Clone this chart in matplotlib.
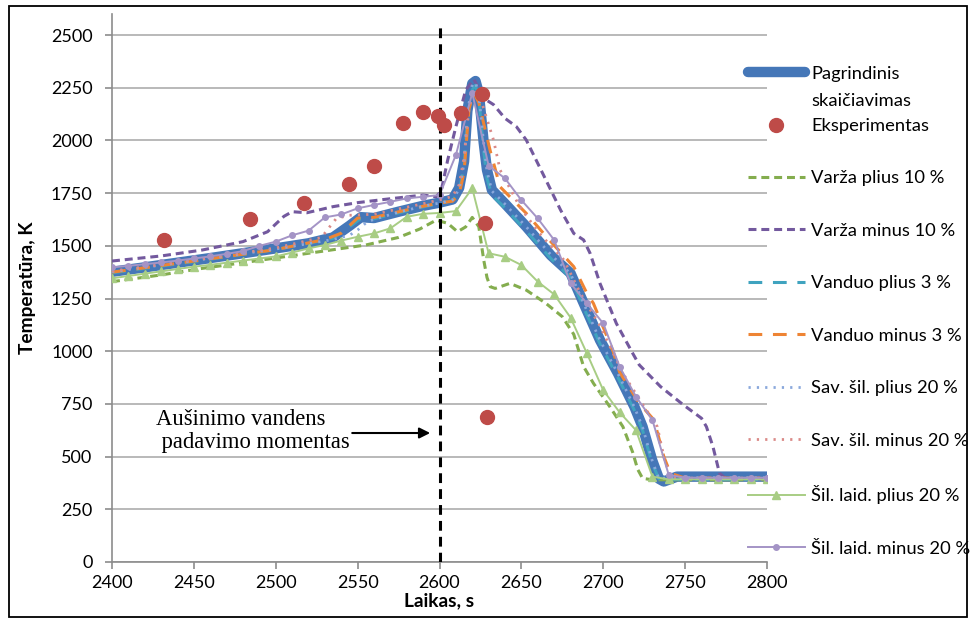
import matplotlib
matplotlib.use('Agg')
import matplotlib.pyplot as plt
from matplotlib.patches import Rectangle

plt.rcParams['font.family'] = ['Lato', 'DejaVu Sans']

# --- data ---
t_base = [2400, 2420, 2440, 2460, 2480, 2500, 2520, 2535, 2545, 2552, 2560, 2575, 2590, 2600,
          2608, 2612, 2615, 2617, 2620, 2622, 2624, 2627, 2629, 2632, 2640, 2653, 2668, 2680,
          2689, 2698, 2709, 2719, 2724, 2730, 2734, 2737, 2745, 2800]
T_base = [1377, 1398, 1420, 1442, 1465, 1488, 1512, 1540, 1595, 1636, 1632, 1662, 1690, 1705,
          1720, 1775, 1900, 2140, 2270, 2282, 2225, 1990, 1860, 1765, 1700, 1591, 1455, 1370,
          1211, 1053, 895, 737, 642, 480, 395, 382, 405, 405]

t_exp = [2432, 2484, 2517, 2545, 2560, 2578, 2590, 2599, 2603, 2613, 2626, 2628, 2629]
T_exp = [1527, 1627, 1705, 1793, 1880, 2084, 2137, 2116, 2073, 2128, 2220, 1610, 689]

t_vp10 = [2400, 2430, 2455, 2480, 2505, 2530, 2555, 2575, 2588, 2598, 2605, 2611, 2616, 2620,
          2624, 2627, 2629, 2631, 2634, 2643, 2653, 2665, 2675, 2682, 2688, 2694, 2704, 2712,
          2718, 2721, 2724, 2730, 2800]
T_vp10 = [1330, 1362, 1393, 1420, 1448, 1476, 1504, 1540, 1580, 1622, 1607, 1567, 1590, 1635,
          1591, 1433, 1350, 1306, 1298, 1322, 1290, 1227, 1164, 1080, 927, 848, 737, 642,
          520, 440, 397, 390, 390]

t_vm10 = [2400, 2430, 2455, 2480, 2495, 2505, 2510, 2519, 2535, 2550, 2566, 2590, 2598, 2601,
          2605, 2610, 2616, 2621, 2627, 2633, 2640, 2647, 2653, 2663, 2674, 2682, 2688, 2692,
          2698, 2708, 2718, 2722, 2735, 2749, 2760, 2763, 2767, 2771, 2775, 2800]
T_vm10 = [1428, 1452, 1480, 1520, 1567, 1640, 1662, 1657, 1686, 1705, 1720, 1741, 1733, 1760,
          1907, 2065, 2239, 2290, 2200, 2170, 2105, 2065, 2002, 1844, 1669, 1559, 1528, 1464,
          1322, 1132, 990, 935, 832, 745, 682, 642, 547, 421, 395, 395]

t_wp3 = [2400, 2450, 2500, 2535, 2545, 2552, 2560, 2590, 2600, 2608, 2612, 2615, 2617, 2620,
         2622, 2624, 2627, 2629, 2632, 2640, 2653, 2668, 2680, 2689, 2698, 2709, 2719, 2724,
         2730, 2734, 2740, 2800]
T_wp3 = [1372, 1425, 1482, 1535, 1590, 1630, 1628, 1685, 1700, 1715, 1760, 1880, 2100, 2240,
         2262, 2200, 1950, 1820, 1740, 1680, 1570, 1440, 1350, 1190, 1035, 875, 720, 625,
         465, 395, 392, 392]

t_wm3 = [2400, 2450, 2500, 2530, 2540, 2550, 2560, 2590, 2600, 2608, 2612, 2615, 2618, 2621,
         2624, 2627, 2631, 2637, 2653, 2667, 2682, 2690, 2694, 2706, 2710, 2722, 2731, 2737,
         2741, 2750, 2800]
T_wm3 = [1375, 1428, 1482, 1530, 1560, 1632, 1635, 1688, 1703, 1712, 1745, 1850, 2150, 2225,
         2180, 2080, 1950, 1780, 1654, 1528, 1401, 1275, 1227, 1000, 900, 753, 674, 500,
         421, 398, 398]

t_sp20 = [2400, 2450, 2500, 2535, 2545, 2550, 2556, 2562, 2575, 2590, 2600, 2608, 2612, 2615,
          2617, 2620, 2622, 2624, 2627, 2629, 2632, 2640, 2653, 2668, 2680, 2689, 2698, 2709,
          2719, 2724, 2730, 2734, 2740, 2800]
T_sp20 = [1377, 1430, 1485, 1530, 1550, 1575, 1615, 1630, 1660, 1688, 1703, 1718, 1770, 1890,
          2130, 2265, 2275, 2220, 1985, 1855, 1760, 1698, 1590, 1458, 1368, 1210, 1052, 893,
          735, 640, 478, 395, 400, 400]

t_sm20 = [2400, 2450, 2500, 2528, 2533, 2537, 2545, 2560, 2590, 2600, 2608, 2612, 2615, 2618,
          2621, 2625, 2633, 2637, 2649, 2661, 2676, 2686, 2698, 2712, 2725, 2733, 2737, 2741,
          2750, 2800]
T_sm20 = [1380, 1432, 1490, 1540, 1591, 1630, 1645, 1650, 1700, 1718, 1735, 1790, 1920, 2150,
          2240, 2200, 2002, 1860, 1686, 1559, 1433, 1275, 1120, 895, 737, 642, 500, 400,
          398, 398]

# thermal conductivity runs are sampled every 10 s
t_10s = list(range(2400, 2801, 10))
T_kp20 = [1346, 1357, 1368, 1379, 1390, 1401, 1410, 1420, 1430, 1440, 1450, 1468, 1488, 1504,
          1525, 1543, 1559, 1583, 1638, 1652, 1656, 1665, 1773, 1465, 1448, 1409, 1330, 1270,
          1160, 990, 815, 710, 625, 405, 392, 392, 392, 392, 392, 392, 392]
T_km20 = [1398, 1405, 1413, 1421, 1430, 1440, 1450, 1462, 1475, 1500, 1520, 1550, 1572, 1635,
          1649, 1678, 1694, 1709, 1725, 1733, 1741, 1931, 2225, 1880, 1820, 1717, 1630, 1528,
          1322, 1227, 1132, 927, 784, 674, 413, 400, 400, 400, 400, 400, 400]

# --- figure ---
fig = plt.figure(figsize=(9.79, 6.23), dpi=100)
ax = fig.add_axes([112/979, 1 - 562/623, (767 - 112)/979, 548/623])

l_base, = ax.plot(t_base, T_base, color='#4577B8', lw=7.5, solid_capstyle='round',
                  solid_joinstyle='round', zorder=2, label='Pagrindinis')
l_exp, = ax.plot(t_exp, T_exp, ls='none', marker='o', ms=10, color='#BE4B48', zorder=6,
                 label='Eksperimentas')
l_vp, = ax.plot(t_vp10, T_vp10, color='#84AD4E', lw=2.2, dashes=(2.6, 1.6), zorder=3,
                label='Varža plius 10 %')
l_vm, = ax.plot(t_vm10, T_vm10, color='#73599E', lw=2.2, dashes=(2.6, 1.6), zorder=3,
                label='Varža minus 10 %')
l_wp, = ax.plot(t_wp3, T_wp3, color='#3FA3BF', lw=2.2, dashes=(4.5, 3.5), zorder=3,
                label='Vanduo plius 3 %')
l_wm, = ax.plot(t_wm3, T_wm3, color='#EE8434', lw=2.2, dashes=(4.5, 3.5), zorder=3,
                label='Vanduo minus 3 %')
l_sp, = ax.plot(t_sp20, T_sp20, color='#8AA8DC', lw=2.0, dashes=(0.8, 2.2), zorder=4,
                label='Sav. šil. plius 20 %')
l_sm, = ax.plot(t_sm20, T_sm20, color='#DA8A88', lw=2.0, dashes=(0.8, 2.2), zorder=4,
                label='Sav. šil. minus 20 %')
l_kp, = ax.plot(t_10s, T_kp20, color='#A8CD84', lw=1.4, marker='^', ms=5.5, zorder=4,
                label='Šil. laid. plius 20 %')
l_km, = ax.plot(t_10s, T_km20, color='#A494C6', lw=1.4, marker='o', ms=4, zorder=4,
                label='Šil. laid. minus 20 %')

# moment of cooling water injection
ax.axvline(2600, ymin=0, ymax=0.985, color='black', lw=2.2, dashes=(3.2, 2.0), zorder=5)
ax.text(2427, 621, 'Aušinimo vandens\n padavimo momentas', family='Liberation Serif',
        fontsize=16.3, ha='left', va='center', linespacing=1.12)
ax.annotate('', xy=(2596, 612), xytext=(2545, 612),
            arrowprops=dict(arrowstyle='-|>', color='black', lw=1.5, mutation_scale=16))

ax.set_xlim(2400, 2800)
ax.set_ylim(0, 2600)
ax.set_xticks(range(2400, 2801, 50))
ax.set_yticks(range(0, 2501, 250))
ax.grid(axis='y', color='#A6A6A6', lw=1.1)
ax.set_axisbelow(True)
for s in ['top', 'right']:
    ax.spines[s].set_visible(False)
for s in ['left', 'bottom']:
    ax.spines[s].set_color('#8C8C8C')
    ax.spines[s].set_linewidth(1.2)
ax.tick_params(axis='both', colors='#8C8C8C', labelcolor='black', labelsize=13, length=5,
               width=1.2)
ax.tick_params(axis='y', pad=9)
ax.tick_params(axis='x', pad=4)
ax.set_xlabel('Laikas, s', fontsize=13.8, fontweight='bold', labelpad=1)
ax.set_ylabel('Temperatūra, K', fontsize=13.8, fontweight='bold', labelpad=11)

# legend on the right
handles = [l_base, l_exp, l_vp, l_vm, l_wp, l_wm, l_sp, l_sm, l_kp, l_km]
fs = 13.2
fs_px = fs * 100 / 72
x0 = 748 / 979
y0 = 1 - 60 / 623


def make_legend(ls, y):
    return fig.legend(handles, [h.get_label() for h in handles], loc='upper left',
                      bbox_to_anchor=(x0, y), frameon=False, fontsize=fs, numpoints=1,
                      handlelength=3.1, handletextpad=0.35, labelspacing=ls,
                      borderpad=0, borderaxespad=0)


def centers(leg, r):
    out = []
    for t in leg.get_texts():
        bb = t.get_window_extent(r)
        out.append((bb.x0, (bb.y0 + bb.y1) / 2))
    return out


leg = make_legend(2.0, y0)
fig.canvas.draw()
r = fig.canvas.get_renderer()
c = centers(leg, r)
step = (c[0][1] - c[-1][1]) / (len(c) - 1)
ls = 2.0 + (52.8 - step) / fs_px
leg.remove()
leg = make_legend(ls, y0)
fig.canvas.draw()
c = centers(leg, r)
dy = (623 - 73.5) - c[0][1]
leg.remove()
leg = make_legend(ls, y0 + dy / 623)
fig.canvas.draw()
c = centers(leg, r)
fig.text(c[0][0] / 979, (c[0][1] - 27) / 623, 'skaičiavimas', fontsize=fs, va='center',
         ha='left')

# outer frame
fig.patches.append(Rectangle((9/979, 6/623), (967 - 9)/979, (617 - 6)/623,
                             transform=fig.transFigure, fill=False, edgecolor='black', lw=1.3))

fig.savefig('out.png', dpi=100)
